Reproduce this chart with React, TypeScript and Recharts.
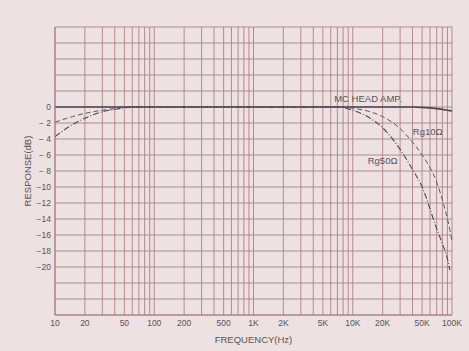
import * as React from 'react';
import { LineChart, Line, CartesianGrid, XAxis, YAxis, Label, ReferenceDot } from 'recharts';

// frequency points (Hz)
const freqs = [10, 15, 20, 30, 40, 50, 70, 100, 1000, 5000, 7000, 10000, 15000, 20000, 30000, 40000, 50000, 70000, 80000, 90000, 95000, 100000];
const mcHeadAmp = [0, 0, 0, 0, 0, 0, 0, 0, 0, 0, 0, 0, 0, 0, 0, 0, -0.05, -0.2, -0.3, -0.4, -0.45, -0.5];
const rg10 = [-1.9, -1.2, -0.8, -0.4, -0.2, -0.05, 0, 0, 0, 0, 0, -0.15, -0.6, -1.2, -2.7, -4.4, -6.0, -9.4, -11.6, -14.0, -15.3, -16.8];
const rg50 = [-3.7, -2.2, -1.4, -0.6, -0.3, -0.1, 0, 0, 0, 0, 0, -0.4, -1.4, -2.6, -5.3, -7.8, -10.0, -15.2, -17.1, -19.0, -20.4, null];

// grid / tick positions
const xGridTicks = [
  10, 20, 30, 40, 50, 60, 70, 80, 90,
  100, 200, 300, 400, 500, 600, 700, 800, 900,
  1000, 2000, 3000, 4000, 5000, 6000, 7000, 8000, 9000,
  10000, 20000, 30000, 40000, 50000, 60000, 70000, 80000, 90000, 100000,
];
const xTickLabels: Record<number, string> = {
  10: '10', 20: '20', 50: '50', 100: '100', 200: '200', 500: '500',
  1000: '1K', 2000: '2K', 5000: '5K', 10000: '10K', 20000: '20K', 50000: '50K', 100000: '100K',
};
const yGridTicks = [10, 8, 6, 4, 2, 0, -2, -4, -6, -8, -10, -12, -14, -16, -18, -20, -22, -24, -26];

const data = freqs.map((f, i) => ({ f, mc: mcHeadAmp[i], rg10: rg10[i], rg50: rg50[i] }));

const textColor = '#5a5256';
const font = '"Liberation Sans", Arial, sans-serif';

const fmtY = (v: number) => {
  if (v > 0 || v < -20) return '';
  if (v === 0) return '0';
  return v > -10 ? `\u2212 ${-v}` : `\u2212${-v}`;
};

const App = () => (
  <div style={{ position: 'absolute', left: 0, top: 0, width: 469, height: 351, background: '#eee1e2' }}>
    <LineChart width={469} height={351} data={data} margin={{ top: 27, right: 17, left: 0, bottom: 0 }}>
      <CartesianGrid stroke="#a97c80" strokeWidth={0.85} />
      <XAxis
        dataKey="f"
        type="number"
        scale="log"
        domain={[10, 100000]}
        ticks={xGridTicks}
        interval={0}
        tickFormatter={(v: number) => xTickLabels[v] ?? ''}
        tickSize={0}
        tickMargin={5}
        height={36}
        axisLine={{ stroke: '#a97c80' }}
        tick={{ fill: textColor, fontSize: 8.5, fontFamily: font }}
      >
        <Label value="FREQUENCY(Hz)" position="insideBottom" offset={8} style={{ fill: textColor, fontSize: 9.5, fontFamily: font }} />
      </XAxis>
      <YAxis
        type="number"
        domain={[-26, 10]}
        ticks={yGridTicks}
        interval={0}
        tickFormatter={fmtY}
        tickSize={0}
        tickMargin={4}
        width={55}
        axisLine={{ stroke: '#a97c80' }}
        tick={{ fill: textColor, fontSize: 8.5, fontFamily: font }}
      >
        <Label value="RESPONSE(dB)" angle={-90} position="insideLeft" offset={28} style={{ textAnchor: 'middle', fill: textColor, fontSize: 9.5, fontFamily: font }} />
      </YAxis>
      <Line type="monotone" dataKey="mc" stroke="#4a4656" strokeWidth={1.6} dot={false} isAnimationActive={false} />
      <Line type="monotone" dataKey="rg10" stroke="#5e565c" strokeWidth={1} strokeDasharray="5 3" dot={false} isAnimationActive={false} />
      <Line type="monotone" dataKey="rg50" stroke="#4e484e" strokeWidth={1.1} strokeDasharray="6 2 1 2" dot={false} connectNulls={false} isAnimationActive={false} />
      <ReferenceDot x={14300} y={1.1} r={0} label={{ value: 'MC HEAD AMP.', position: 'center', fill: textColor, fontSize: 9.5, fontFamily: font }} />
      <ReferenceDot x={57000} y={-3.1} r={0} label={{ value: 'Rg10\u03a9', position: 'center', fill: textColor, fontSize: 9.5, fontFamily: font }} />
      <ReferenceDot x={20000} y={-6.7} r={0} label={{ value: 'Rg50\u03a9', position: 'center', fill: textColor, fontSize: 9.5, fontFamily: font }} />
    </LineChart>
  </div>
);

export default App;
